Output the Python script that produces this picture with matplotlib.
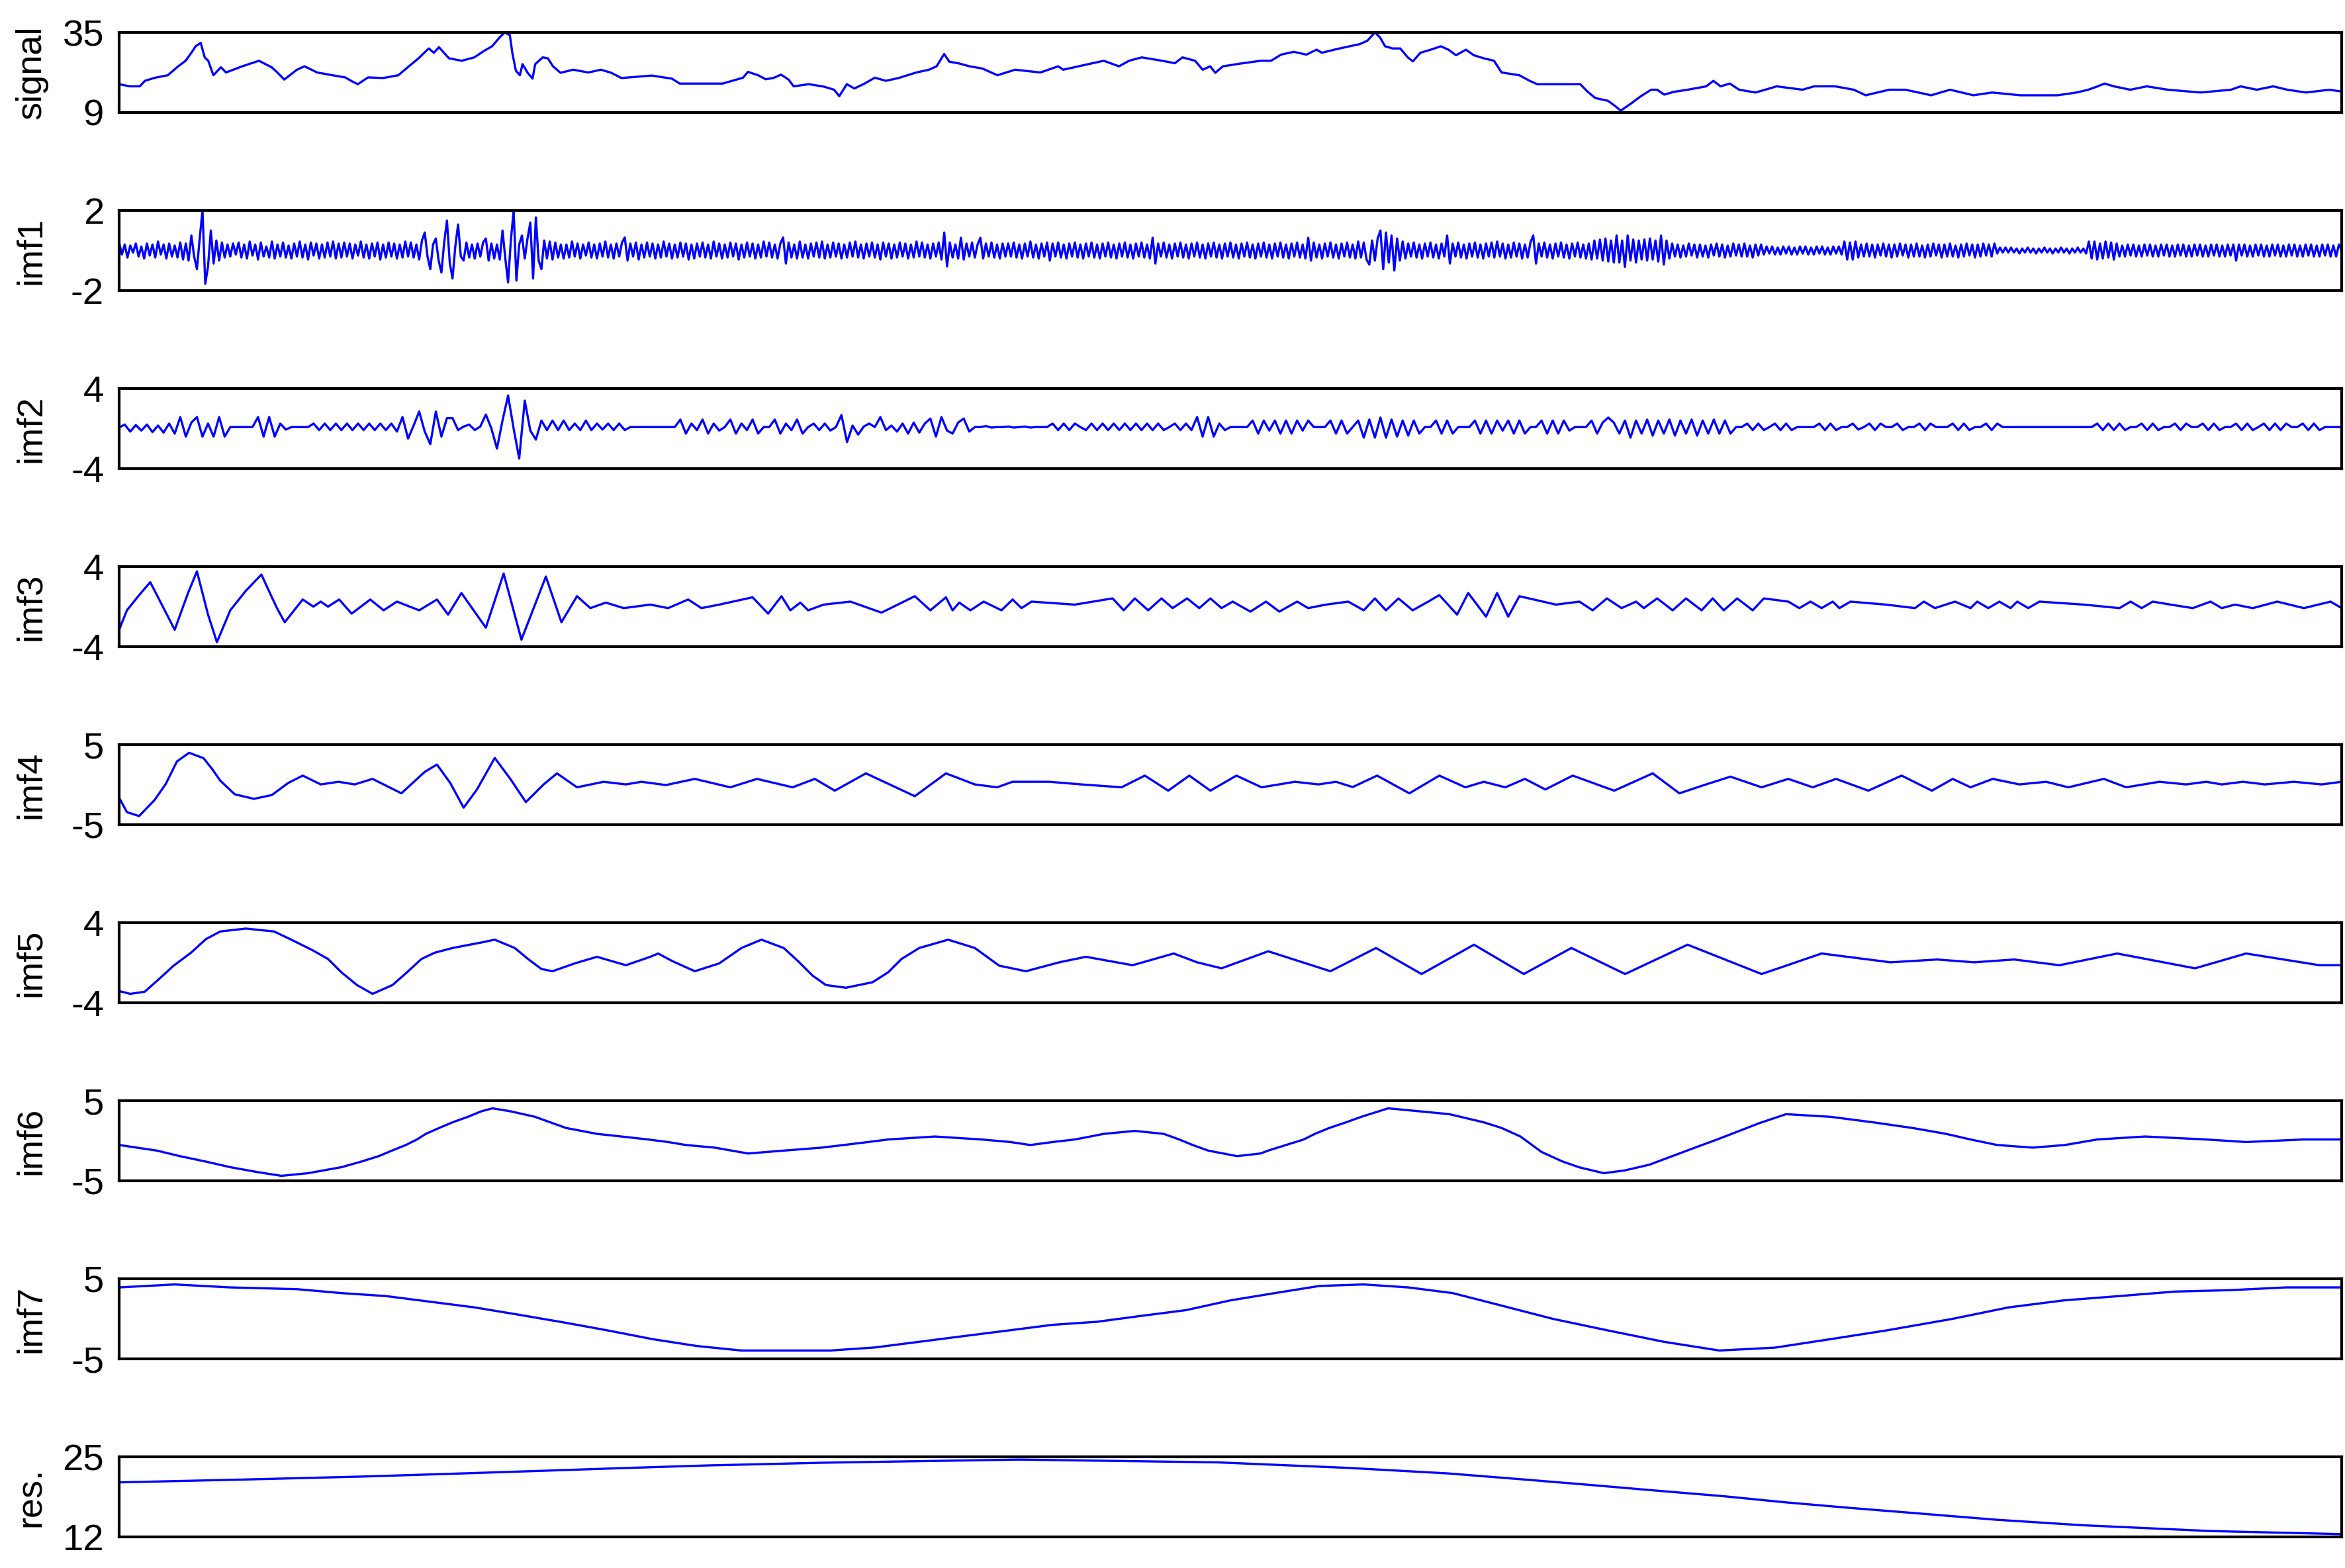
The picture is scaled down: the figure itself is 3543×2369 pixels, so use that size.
import numpy as np
import matplotlib
matplotlib.use('Agg')
import matplotlib.pyplot as plt

plt.rcParams['font.family'] = ['Liberation Sans', 'DejaVu Sans']

# sample axis runs 0..1000 for every panel
signal_t = [0, 4.8, 9.3, 11.6, 16.2, 21.9, 26.4, 29.9, 32.8, 34.4,
            36.7, 38.5, 40.1, 42.4, 45.8, 48.1, 55, 62.9, 68.6, 70.9,
            74.3, 80, 83.4, 89.1, 96, 101.7, 105.1, 107.4, 112, 118.8,
            125.6, 130.2, 134.7, 139.3, 141.6, 143.9, 148.4, 154.1, 159.8, 164.4,
            167.8, 171.2, 173.5, 175.8, 176.9, 178.5, 180.3, 181.5, 183.8, 186,
            187.2, 190.6, 192.9, 195.2, 198.6, 204.3, 211.1, 216.8, 221.4, 226,
            239.6, 248.7, 252.2, 271.5, 280.7, 282.9, 287.5, 290.9, 294.3, 297.8,
            301.2, 303.5, 310.3, 317.1, 321.7, 324, 327.4, 330.8, 335.4, 340,
            345, 350.7, 358.7, 364.4, 367.8, 371.2, 373.5, 378.1, 382.6, 388.3,
            395.2, 403.1, 414.5, 422.5, 424.8, 431.6, 437.3, 443, 449.9, 454.4,
            460.1, 469.3, 475, 478.4, 484.1, 487.5, 490.9, 493.2, 496.6, 504.6,
            513.7, 518.3, 522.8, 528.5, 534.2, 538.8, 541.1, 547.9, 553.6, 558.2,
            561.6, 565, 567.3, 569.6, 573, 576.4, 579.8, 582.1, 585.5, 590.1,
            594.7, 598.1, 601.5, 606, 609.5, 614, 618.6, 622, 630, 634.6,
            638, 657.4, 660.8, 664.2, 669.9, 673.3, 675.6, 680.2, 684.7, 689.3,
            692, 695.2, 699.4, 705.7, 714.1, 717.3, 720.5, 724.7, 728.9, 736.3,
            745.8, 757.4, 762.6, 772.1, 780.5, 785.8, 796.4, 803.7, 815.3, 823.8,
            834.3, 842.7, 855.4, 872.2, 880.7, 886, 890.2, 893.3, 897.5, 904.9,
            912.3, 921.8, 936.5, 950.2, 954.5, 961.8, 969.2, 975.5, 984, 994.5,
            1000]
signal_v = [18.2, 17.5, 17.5, 19.3, 20.3, 21.1, 23.9, 25.8, 28.7, 30.5,
            31.6, 26.9, 25.8, 21.1, 23.7, 22, 23.9, 25.8, 23.7, 22.2,
            19.7, 22.9, 24, 22, 21.1, 20.4, 19, 18.2, 20.4, 20.2,
            21.1, 23.9, 26.6, 29.8, 28.4, 30.2, 26.6, 25.8, 26.9, 29.1,
            30.5, 33.4, 35, 34.1, 28.4, 22.6, 21.1, 24.7, 21.9, 20,
            24.7, 26.9, 26.6, 24, 21.9, 22.9, 22, 22.9, 21.9, 20.2,
            21, 20, 18.4, 18.4, 20.3, 22.2, 21.1, 19.8, 20.2, 21.3,
            19.7, 17.5, 18.2, 17.4, 16.4, 14.3, 18.2, 16.8, 18.4, 20.3,
            19.3, 20.2, 22, 22.9, 24, 28, 25.5, 24.9, 24, 23.3,
            21.1, 22.9, 22, 24, 22.9, 24, 24.9, 25.8, 24, 25.8,
            26.9, 25.8, 25, 26.9, 25.8, 22.9, 24, 21.9, 24, 24.9,
            25.8, 25.8, 27.8, 28.7, 27.8, 29.4, 28.4, 29.6, 30.5, 31.2,
            32.3, 35, 33.4, 30.5, 29.8, 29.8, 26.9, 25.6, 28.4, 29.4,
            30.5, 29.4, 27.6, 29.4, 27.6, 26.6, 25.8, 22, 21.1, 19.3,
            18.2, 18.2, 15.7, 13.7, 12.8, 11, 9.6, 11.9, 14.3, 16.4,
            16.4, 14.8, 15.7, 16.4, 17.5, 19.3, 17.5, 18.4, 16.4, 15.5,
            17.5, 16.4, 17.5, 17.5, 16.4, 14.6, 16.4, 16.4, 14.6, 16.4,
            14.6, 15.5, 14.6, 14.6, 15.5, 16.4, 17.5, 18.4, 17.5, 16.4,
            17.5, 16.4, 15.5, 16.4, 17.5, 16.4, 17.5, 16.4, 15.5, 16.4,
            15.8]

# imf1: one value every 1.25 samples (40 values per line = 50 samples)
imf1_v = [0.4, -0.2, 0.3, -0.35, 0.25, -0.1, 0.35, -0.3, 0.2, -0.4, 0.35, -0.25, 0.3, -0.35, 0.45, -0.2, 0.3, -0.4, 0.35, -0.3,
          0.25, -0.35, 0.4, -0.45, 0.35, -0.5, 0.75, -0.3, -0.93, 0.6, 2.0, -1.66, -0.8, 1.0, -0.65, 0.5, -0.5, 0.4, -0.35, 0.3,
          -0.3, 0.35, -0.2, 0.4, -0.35, 0.3, -0.4, 0.45, -0.25, 0.3, -0.45, 0.4, -0.3, 0.2, -0.35, 0.45, -0.4, 0.3, -0.3, 0.4,
          -0.35, 0.25, -0.4, 0.35, -0.3, 0.45, -0.35, 0.3, -0.45, 0.4, -0.25, 0.35, -0.4, 0.3, -0.35, 0.4, -0.3, 0.45, -0.4, 0.35,
          -0.35, 0.4, -0.3, 0.35, -0.4, 0.3, -0.25, 0.45, -0.35, 0.3, -0.4, 0.35, -0.3, 0.4, -0.45, 0.3, -0.35, 0.4, -0.3, 0.35,
          -0.4, 0.3, -0.35, 0.45, -0.3, 0.4, -0.35, 0.3, -0.45, 0.5, 0.9, -0.3, -0.93, 0.3, 0.6, -0.5, -1.1, 0.4, 1.5, -0.6,
          -1.4, 0.2, 1.3, -0.3, -0.5, 0.4, -0.35, 0.3, -0.4, 0.35, -0.3, 0.4, 0.6, -0.5, 0.35, -0.4, 0.3, -0.45, 1.0, -0.4,
          -1.6, 0.5, 2.0, -1.5, 0.3, 0.75, -0.4, 0.6, 1.4, -1.4, 1.65, -0.5, -0.93, 0.5, -0.4, 0.45, -0.45, 0.4, -0.35, 0.3,
          -0.4, 0.3, -0.35, 0.45, -0.3, 0.35, -0.4, 0.3, -0.25, 0.4, -0.35, 0.3, -0.4, 0.35, -0.3, 0.45, -0.35, 0.3, -0.4, 0.35,
          -0.3, 0.4, 0.65, -0.5, 0.35, -0.3, 0.4, -0.45, 0.3, -0.35, 0.4, -0.3, 0.35, -0.4, 0.3, -0.35, 0.45, -0.3, 0.35, -0.4,
          0.3, -0.35, 0.4, -0.3, 0.35, -0.45, 0.3, -0.4, 0.35, -0.3, 0.4, -0.35, 0.3, -0.4, 0.45, -0.3, 0.35, -0.4, 0.3, -0.35,
          0.4, -0.3, 0.35, -0.45, 0.3, -0.35, 0.4, -0.3, 0.35, -0.4, 0.3, -0.35, 0.45, -0.3, 0.4, -0.35, 0.3, -0.4, 0.35, 0.65,
          -0.65, 0.4, -0.35, 0.3, -0.4, 0.45, -0.35, 0.3, -0.4, 0.35, -0.3, 0.4, -0.35, 0.45, -0.4, 0.3, -0.35, 0.4, -0.3, 0.35,
          -0.4, 0.3, -0.35, 0.4, -0.3, 0.45, -0.35, 0.3, -0.4, 0.35, -0.3, 0.4, -0.35, 0.3, -0.45, 0.4, -0.3, 0.35, -0.4, 0.3,
          -0.35, 0.4, -0.3, 0.35, -0.4, 0.3, -0.35, 0.45, -0.3, 0.4, -0.35, 0.3, -0.4, 0.35, -0.3, 0.4, -0.45, 0.9, -0.8, 0.4,
          -0.35, 0.3, -0.4, 0.64, -0.45, 0.35, -0.3, 0.4, -0.35, 0.3, 0.64, -0.4, 0.35, -0.3, 0.4, -0.35, 0.3, -0.4, 0.35, -0.3,
          0.35, -0.3, 0.4, -0.35, 0.3, -0.4, 0.35, -0.3, 0.45, -0.35, 0.3, -0.4, 0.35, -0.3, 0.4, -0.5, 0.35, -0.3, 0.4, -0.35,
          0.3, -0.4, 0.35, -0.3, 0.4, -0.35, 0.3, -0.4, 0.35, -0.3, 0.4, -0.35, 0.3, -0.4, 0.35, -0.3, 0.4, -0.35, 0.3, -0.4,
          0.35, -0.3, 0.4, -0.35, 0.3, -0.4, 0.35, -0.3, 0.4, -0.35, 0.3, -0.4, 0.64, -0.65, 0.35, -0.3, 0.4, -0.35, 0.3, -0.4,
          0.35, -0.3, 0.4, -0.35, 0.3, -0.4, 0.35, -0.3, 0.4, -0.35, 0.3, -0.4, 0.35, -0.3, 0.4, -0.35, 0.3, -0.4, 0.35, -0.3,
          0.4, -0.35, 0.3, -0.4, 0.35, -0.3, 0.4, -0.35, 0.3, -0.4, 0.35, -0.3, 0.4, -0.35, 0.3, -0.4, 0.35, -0.3, 0.4, -0.35,
          0.3, -0.4, 0.35, -0.3, 0.4, -0.35, 0.3, -0.4, 0.64, -0.5, 0.4, -0.35, 0.3, -0.4, 0.35, -0.3, 0.4, -0.35, 0.3, -0.4,
          0.35, -0.3, 0.4, -0.35, 0.3, -0.4, 0.45, -0.35, 0.4, -0.45, -0.7, 0.5, -0.5, 0.6, 1.0, -0.93, 0.9, -0.6, 0.75, -1.0,
          0.6, -0.5, 0.45, -0.4, 0.35, -0.3, 0.4, -0.35, 0.3, -0.4, 0.35, -0.3, 0.4, -0.35, 0.3, -0.4, 0.35, -0.3, 0.75, -0.65,
          0.35, -0.3, 0.4, -0.35, 0.3, -0.4, 0.35, -0.3, 0.4, -0.35, 0.3, -0.4, 0.35, -0.3, 0.4, -0.35, 0.45, -0.3, 0.35, -0.4,
          0.3, -0.35, 0.4, -0.3, 0.35, -0.4, 0.3, -0.35, 0.4, 0.75, -0.65, 0.35, -0.3, 0.4, -0.35, 0.3, -0.4, 0.35, -0.3, 0.4,
          -0.35, 0.3, -0.4, 0.35, -0.3, 0.4, -0.35, 0.3, -0.4, 0.35, -0.45, 0.5, -0.4, 0.55, -0.5, 0.6, -0.55, 0.5, -0.6, 0.75,
          -0.6, 0.5, -0.82, 0.75, -0.5, 0.55, -0.6, 0.5, -0.45, 0.55, -0.5, 0.6, -0.45, 0.5, -0.55, 0.75, -0.7, 0.5, -0.4, 0.35,
          -0.3, 0.3, -0.35, 0.25, -0.3, 0.35, -0.25, 0.3, -0.35, 0.3, -0.3, 0.25, -0.35, 0.3, -0.25, 0.35, -0.3, 0.3, -0.35, 0.25,
          -0.3, 0.35, -0.25, 0.3, -0.3, 0.35, -0.3, 0.25, -0.35, 0.3, -0.25, 0.3, -0.2, 0.2, -0.15, 0.2, -0.2, 0.15, -0.2, 0.2,
          -0.15, 0.2, -0.2, 0.15, -0.2, 0.2, -0.15, 0.2, -0.2, 0.15, -0.2, 0.2, -0.15, 0.2, -0.2, 0.15, -0.2, 0.2, -0.15, 0.2,
          -0.2, 0.45, -0.45, 0.4, -0.45, 0.45, -0.35, 0.3, -0.3, 0.35, -0.3, 0.3, -0.35, 0.3, -0.25, 0.35, -0.3, 0.3, -0.35, 0.3,
          -0.3, 0.35, -0.25, 0.3, -0.35, 0.3, -0.3, 0.35, -0.3, 0.25, -0.35, 0.3, -0.3, 0.35, -0.25, 0.3, -0.35, 0.3, -0.3, 0.35,
          -0.3, 0.25, -0.35, 0.3, -0.3, 0.35, -0.25, 0.3, -0.35, 0.3, -0.3, 0.35, -0.25, 0.3, -0.3, 0.35, -0.15, 0.15, -0.1, 0.15,
          -0.1, 0.15, -0.1, 0.1, -0.15, 0.1, -0.1, 0.15, -0.1, 0.1, -0.15, 0.1, -0.1, 0.15, -0.1, 0.1, -0.15, 0.1, -0.1, 0.15,
          -0.1, 0.1, -0.15, 0.1, -0.1, 0.15, -0.1, 0.1, -0.15, 0.45, -0.4, 0.45, -0.45, 0.35, -0.4, 0.45, -0.35, 0.4, -0.45, 0.35,
          -0.3, 0.25, -0.3, 0.3, -0.25, 0.3, -0.3, 0.25, -0.3, 0.3, -0.25, 0.3, -0.3, 0.25, -0.3, 0.3, -0.25, 0.3, -0.3, 0.25,
          -0.3, 0.3, -0.25, 0.3, -0.3, 0.25, -0.3, 0.3, -0.25, 0.3, -0.3, 0.25, -0.3, 0.3, -0.25, 0.3, -0.3, 0.25, -0.3, 0.3,
          -0.25, 0.3, -0.5, 0.3, -0.25, 0.3, -0.3, 0.25, -0.3, 0.3, -0.25, 0.3, -0.3, 0.25, -0.3, 0.3, -0.25, 0.3, -0.3, 0.25,
          -0.3, 0.3, -0.25, 0.3, -0.3, 0.25, -0.3, 0.3, -0.25, 0.3, -0.3, 0.25, -0.3, 0.3, -0.25, 0.3, -0.3, 0.25, -0.3, 0.3,
          0.0]

# imf2: one value every 2.5 samples
imf2_v = [0.1, 0.4, -0.3, 0.35, -0.2, 0.4, -0.35, 0.3, -0.4, 0.5, -0.5, 1.15, -0.8, 0.6, 1.15, -0.8, 0.5, -0.8, 1.15, -0.8,
          0.15, 0.15, 0.15, 0.15, 0.15, 1.15, -0.8, 1.15, -0.8, 0.5, -0.1, 0.15, 0.15, 0.15, 0.15, 0.5, -0.15, 0.5, -0.15, 0.5,
          -0.15, 0.5, -0.15, 0.5, -0.15, 0.5, -0.15, 0.5, -0.15, 0.5, -0.3, 1.15, -1.0, 0.3, 1.7, -0.3, -1.55, 1.7, -0.8, 1.05,
          1.05, -0.15, 0.2, 0.4, -0.15, 0.2, 1.4, 0.0, -2.0, 0.8, 3.3, 0.0, -3.0, 2.8, -0.2, -1.1, 0.8, -0.15, 0.8, -0.15,
          0.8, -0.15, 0.5, -0.15, 0.8, -0.15, 0.5, -0.1, 0.5, -0.15, 0.5, -0.15, 0.15, 0.15, 0.15, 0.15, 0.15, 0.15, 0.15, 0.15,
          0.15, 0.9, -0.5, 0.5, -0.15, 0.9, -0.5, 0.5, -0.2, 0.15, 0.9, -0.5, 0.5, -0.15, 0.9, -0.5, 0.15, 0.15, 0.9, -0.5,
          0.5, -0.15, 0.9, -0.5, 0.15, 0.5, -0.15, 0.5, -0.2, 0.15, 1.35, -1.35, 0.3, -0.6, 0.2, 0.5, 0.15, 1.15, -0.15, 0.3,
          -0.3, 0.5, -0.5, 0.6, -0.4, 0.5, 1.0, -0.8, 1.15, -0.2, -0.5, 0.6, 1.0, -0.3, 0.15, 0.15, 0.25, 0.1, 0.15, 0.15,
          0.2, 0.1, 0.15, 0.2, 0.1, 0.15, 0.15, 0.15, 0.5, -0.15, 0.5, -0.15, 0.5, 0.15, -0.15, 0.5, -0.15, 0.5, -0.15, 0.5,
          -0.15, 0.5, -0.15, 0.5, -0.15, 0.5, -0.15, 0.5, -0.15, 0.15, 0.5, -0.15, 0.5, -0.15, 1.15, -0.8, 1.15, -0.8, 0.5, -0.15,
          0.15, 0.15, 0.15, 0.15, 0.8, -0.5, 0.8, -0.2, 0.8, -0.5, 0.8, -0.5, 0.8, -0.2, 0.8, 0.15, 0.15, 0.15, 0.8, -0.5,
          0.8, -0.5, 0.15, 0.8, -0.9, 0.9, -0.9, 1.1, -0.9, 0.9, -0.8, 0.8, -0.7, 0.8, -0.5, 0.15, 0.15, 0.8, -0.5, 0.8,
          -0.5, 0.15, 0.15, 0.15, 0.8, -0.5, 0.8, -0.5, 0.8, -0.2, 0.8, -0.5, 0.8, -0.5, 0.15, 0.15, 0.8, -0.5, 0.8, -0.5,
          0.8, -0.2, 0.15, 0.15, 0.15, 0.8, -0.5, 0.6, 1.1, 0.6, -0.5, 0.8, -0.9, 0.8, -0.5, 0.9, -0.7, 0.8, -0.5, 0.9,
          -0.7, 0.8, -0.5, 0.9, -0.7, 0.8, -0.5, 0.9, -0.5, 0.8, -0.5, 0.15, 0.15, 0.5, -0.15, 0.5, -0.15, 0.15, 0.5, -0.15,
          0.5, -0.15, 0.15, 0.15, 0.15, 0.15, 0.5, -0.15, 0.5, -0.15, 0.15, 0.15, 0.5, -0.1, 0.15, 0.5, -0.15, 0.5, 0.15, 0.15,
          0.5, -0.15, 0.15, 0.15, 0.5, -0.15, 0.5, 0.15, 0.15, 0.15, 0.5, -0.15, 0.5, -0.15, 0.15, 0.15, 0.5, -0.15, 0.5, 0.15,
          0.15, 0.15, 0.15, 0.15, 0.15, 0.15, 0.15, 0.15, 0.15, 0.15, 0.15, 0.15, 0.15, 0.15, 0.15, 0.15, 0.5, -0.15, 0.5, -0.15,
          0.5, -0.15, 0.15, 0.15, 0.5, -0.15, 0.5, -0.15, 0.15, 0.15, 0.5, -0.15, 0.5, 0.15, 0.15, 0.5, -0.15, 0.5, -0.15, 0.15,
          0.15, 0.5, -0.15, 0.5, -0.15, 0.15, 0.5, -0.15, 0.5, -0.15, 0.5, 0.15, 0.15, 0.5, -0.15, 0.5, -0.15, 0.15, 0.15, 0.15, 0.15]

imf3_t = [0, 3.5, 9, 14, 19, 25, 31, 35, 40, 44,
          50, 57, 64, 71, 74.5, 82.6, 87.4, 90.7, 94, 99,
          104.6, 113, 119, 125, 135, 143, 148, 154, 165, 173,
          181, 192, 199, 206, 212, 219, 227, 239, 247, 256,
          262, 270, 285, 292, 298, 302, 306.5, 310, 317, 329,
          343, 358, 365, 372, 375, 378, 383, 389, 397, 402,
          406, 410.5, 430, 447, 452, 457, 463, 469, 474, 480.5,
          486, 491, 496, 501, 509, 516, 522, 530, 535, 543,
          553, 560, 565, 570, 575.6, 582, 589, 594, 602, 607,
          615, 620, 625, 630, 646.5, 657, 663, 669.4, 676, 682.5,
          686, 692, 699, 705, 712, 717, 722, 728, 735, 740,
          751, 756, 761, 766, 771, 774, 779, 795, 808, 812,
          817, 826, 833, 836, 841, 846, 851, 854, 859, 864,
          884, 900, 905, 910, 915, 923, 933, 941, 946, 952,
          960, 971, 983, 995, 1000]
imf3_v = [-2.31, -0.37, 1.15, 2.44, 0.28, -2.31, 1.36, 3.52, -0.8, -3.55,
          -0.37, 1.58, 3.2, -0.15, -1.56, 0.71, 0.0, 0.5, 0.0, 0.71,
          -0.7, 0.71, -0.37, 0.5, -0.37, 0.71, -0.8, 1.36, -2.1, 3.3,
          -3.3, 3.0, -1.56, 1.04, -0.15, 0.4, -0.15, 0.2, -0.15, 0.71,
          -0.15, 0.2, 0.93, -0.7, 1.04, -0.37, 0.4, -0.37, 0.2, 0.5,
          -0.6, 1.04, -0.37, 0.93, -0.37, 0.4, -0.37, 0.5, -0.37, 0.71,
          -0.15, 0.5, 0.2, 0.82, -0.37, 0.82, -0.37, 0.82, -0.15, 0.82,
          -0.15, 0.82, -0.15, 0.5, -0.5, 0.5, -0.5, 0.5, -0.15, 0.2,
          0.5, -0.37, 0.82, -0.37, 0.82, -0.37, 0.5, 1.15, -0.8, 1.36,
          -1.0, 1.36, -1.0, 1.04, 0.2, 0.5, -0.37, 0.82, -0.15, 0.5,
          -0.15, 0.82, -0.37, 0.82, -0.37, 0.82, -0.37, 0.82, -0.37, 0.82,
          0.5, -0.15, 0.5, -0.15, 0.5, -0.15, 0.5, 0.2, -0.15, 0.5,
          -0.15, 0.5, -0.15, 0.5, -0.15, 0.5, -0.15, 0.5, -0.15, 0.5,
          0.2, -0.15, 0.5, -0.15, 0.5, 0.2, -0.15, 0.5, -0.15, 0.2,
          -0.15, 0.5, -0.15, 0.5, -0.15]

imf4_t = [0, 3.5, 9, 16, 21, 26, 31.5, 38, 42, 45.5,
          52, 60.6, 68.7, 76, 82.6, 90.7, 98.7, 106, 114, 127,
          137.5, 143, 149, 155, 161, 169, 176, 183, 191, 197,
          206, 218, 228, 235, 246, 259, 275, 287, 303, 313,
          322, 336, 358, 372, 385, 395, 402, 418.5, 433, 451,
          461.5, 472, 481.5, 491, 502.7, 514, 529, 539.6, 547.5, 555,
          566, 580.5, 594, 605.7, 614, 623.7, 632.5, 641.7, 654, 672.7,
          690, 702, 714, 725, 739, 751, 762, 772.5, 787, 802,
          815.6, 825, 833, 843, 855, 867, 877, 893, 903, 918,
          930, 939, 946, 955.6, 965.4, 978.5, 991, 1000]
imf4_v = [-1.63, -3.43, -3.92, -1.9, 0.1, 2.9, 3.98, 3.3, 1.9, 0.5,
          -1.2, -1.77, -1.3, 0.2, 1.13, 0.03, 0.36, 0.03, 0.72, -1.08,
          1.6, 2.51, 0.2, -2.87, -0.6, 3.34, 0.72, -2.18, 0.03, 1.41,
          -0.33, 0.36, 0.03, 0.36, -0.05, 0.72, -0.33, 0.72, -0.33, 0.72,
          -0.75, 1.41, -1.44, 1.41, 0.03, -0.33, 0.36, 0.36, 0.03, -0.33,
          1.13, -0.75, 1.13, -0.75, 1.13, -0.33, 0.36, 0.03, 0.36, -0.3,
          1.13, -1.08, 1.13, -0.33, 0.36, -0.33, 0.72, -0.6, 1.13, -0.75,
          1.41, -1.08, 0.03, 1.0, -0.33, 0.72, -0.33, 0.72, -0.75, 1.13,
          -0.75, 0.72, -0.33, 0.72, 0.03, 0.36, -0.33, 0.72, -0.33, 0.36,
          0.03, 0.36, 0.03, 0.36, 0.03, 0.36, 0.03, 0.36]

imf5_t = [0, 5, 11.5, 18, 24.5, 32.5, 39, 45.5, 57, 69.7,
          77, 87, 94, 100, 107, 114, 123, 129.5, 136, 142,
          150, 163, 169, 178, 184, 190, 195, 205, 215, 228,
          239, 242.5, 249, 259, 270, 280, 289, 299, 305.5, 312,
          318, 327, 339, 346, 352, 360, 373, 385, 396, 408,
          423, 435, 456, 474.5, 485, 496, 517, 545, 565.5, 586,
          609.6, 632, 653.4, 677.6, 705.7, 739, 766, 797, 818, 834.6,
          852.6, 873, 899, 934, 957, 990, 1000]
imf5_v = [-2.83, -3.11, -2.9, -1.62, -0.3, 1.03, 2.35, 3.12, 3.41, 3.12,
          2.35, 1.25, 0.37, -0.96, -2.23, -3.11, -2.23, -0.96, 0.37, 1.0,
          1.47, 2.02, 2.3, 1.47, 0.37, -0.63, -0.85, -0.07, 0.59, -0.25,
          0.59, 0.92, 0.15, -0.85, -0.07, 1.47, 2.3, 1.47, 0.15, -1.29,
          -2.23, -2.5, -1.95, -0.96, 0.37, 1.47, 2.3, 1.47, -0.3, -0.85,
          0.04, 0.59, -0.25, 0.92, 0.04, -0.56, 1.14, -0.85, 1.47, -1.13,
          1.8, -1.13, 1.47, -1.13, 1.8, -1.13, 0.92, 0.04, 0.32, 0.04,
          0.32, -0.25, 0.92, -0.56, 0.92, -0.25, -0.25]

imf6_t = [0, 17, 27, 39, 50, 62, 73, 85, 100, 109,
          117, 123, 129, 134, 138, 144, 150, 157, 163, 168,
          176, 187, 194, 201, 215, 226, 238, 247, 255, 268,
          283, 299, 316, 326, 337, 346, 367, 388, 401, 410,
          420, 430, 437, 443, 457, 470, 477, 483, 490, 503,
          513.5, 517, 525, 533, 538, 544.5, 552, 559, 571, 585,
          598.5, 614, 622, 630.5, 640, 649.5, 657, 668, 677.5, 688.5,
          699, 709, 719, 729, 738, 750, 770, 789.5, 807, 822,
          833, 845, 861, 875.5, 890, 911.5, 939, 957, 983, 1000]
imf6_v = [-0.53, -1.23, -1.9, -2.6, -3.3, -3.9, -4.38, -4.05, -3.3, -2.6,
          -1.9, -1.2, -0.53, 0.16, 0.86, 1.6, 2.3, 3.0, 3.68, 4.05,
          3.68, 3.0, 2.3, 1.6, 0.86, 0.53, 0.16, -0.16, -0.53, -0.86,
          -1.59, -1.23, -0.86, -0.53, -0.16, 0.16, 0.53, 0.16, -0.16, -0.53,
          -0.16, 0.16, 0.53, 0.86, 1.23, 0.86, 0.16, -0.53, -1.23, -1.92,
          -1.59, -1.23, -0.53, 0.16, 0.86, 1.6, 2.3, 3.0, 4.05, 3.68,
          3.32, 2.3, 1.6, 0.53, -1.4, -2.6, -3.32, -4.05, -3.7, -2.99,
          -1.9, -0.86, 0.16, 1.23, 2.2, 3.32, 2.99, 2.29, 1.59, 0.86,
          0.16, -0.53, -0.86, -0.53, 0.16, 0.53, 0.16, -0.16, 0.16, 0.16]

imf7_t = [0, 25, 50, 80, 100, 120, 140, 160, 180, 200,
          220, 240, 260, 280, 300, 320, 340, 360, 380, 400,
          420, 440, 460, 480, 500, 520, 540, 560, 580, 600,
          620, 645, 670, 695, 720, 745, 770, 795, 825, 850,
          875, 900, 925, 950, 975, 1000]
imf7_v = [3.92, 4.29, 3.92, 3.7, 3.21, 2.84, 2.13, 1.42, 0.5, -0.45,
          -1.46, -2.54, -3.4, -3.96, -3.96, -3.96, -3.58, -2.87, -2.16, -1.46,
          -0.75, -0.37, 0.37, 1.08, 2.3, 3.21, 4.1, 4.29, 3.92, 3.21,
          1.79, 0.0, -1.46, -2.87, -3.96, -3.6, -2.54, -1.46, 0.0, 1.42,
          2.3, 2.84, 3.4, 3.58, 3.92, 3.92]

res_t = [0, 55, 110, 150, 188, 225, 265, 318, 405, 494,
         553, 598, 631, 663, 692, 722, 750, 779, 810, 844,
         883, 941, 1000]
res_v = [20.85, 21.3, 21.8, 22.25, 22.7, 23.15, 23.6, 24.05, 24.55, 24.1,
         23.2, 22.3, 21.35, 20.4, 19.5, 18.6, 17.6, 16.7, 15.8, 14.8,
         13.9, 12.95, 12.45]

labels = ['signal', 'imf1', 'imf2', 'imf3', 'imf4', 'imf5', 'imf6', 'imf7', 'res.']
ylims = [(9, 35), (-2, 2), (-4, 4), (-4, 4), (-5, 5), (-4, 4), (-5, 5), (-5, 5), (12, 25)]

imf1_t = np.arange(len(imf1_v)) * 1000 / (len(imf1_v) - 1)
imf2_t = np.arange(len(imf2_v)) * 1000 / (len(imf2_v) - 1)
series = [(signal_t, signal_v), (imf1_t, imf1_v), (imf2_t, imf2_v), (imf3_t, imf3_v),
          (imf4_t, imf4_v), (imf5_t, imf5_v), (imf6_t, imf6_v), (imf7_t, imf7_v),
          (res_t, res_v)]

W, H = 3543, 2369
fig = plt.figure(figsize=(W / 300, H / 300), dpi=300)

for i, (label, (lo, hi), (t, v)) in enumerate(zip(labels, ylims, series)):
    top = 49 + 269 * i
    ax = fig.add_axes([180 / W, 1 - (top + 121) / H, 3358 / W, 121 / H])
    ax.plot(t, v, color=(0, 0, 1), lw=0.8)
    ax.set_xlim(0, 1000)
    ax.set_ylim(lo, hi)
    ax.set_xticks([])
    ax.set_yticks([lo, hi])
    ax.set_yticklabels([str(lo), str(hi)])
    ax.tick_params(axis='y', length=0, pad=5.5, labelsize=13.5)
    for s in ax.spines.values():
        s.set_linewidth(1.0)
    ax.set_ylabel(label, fontsize=13, va='center')
    ax.yaxis.set_label_coords(-0.0396, 0.5)

fig.savefig('out.png', dpi=300)
